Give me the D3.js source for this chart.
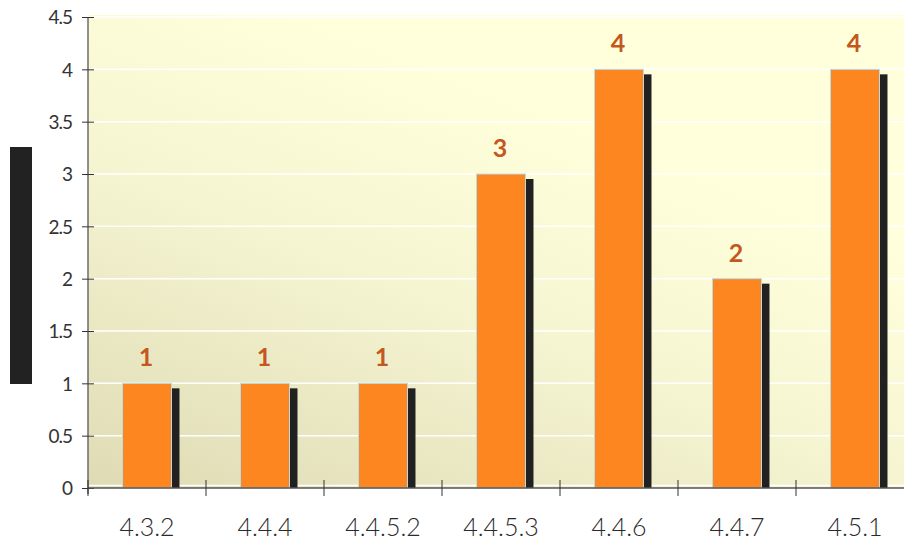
<!DOCTYPE html>
<html><head><meta charset="utf-8">
<script src="https://cdn.jsdelivr.net/npm/d3@7"></script>
<style>
html,body{margin:0;padding:0;background:#fff;}
svg{display:block;}
</style></head>
<body>
<script>
const categories = ["4.3.2","4.4.4","4.4.5.2","4.4.5.3","4.4.6","4.4.7","4.5.1"];
const values = [1,1,1,3,4,2,4];
const yTicks = [0,0.5,1,1.5,2,2.5,3,3.5,4,4.5];
const yTickLabels = ["0","0.5","1","1.5","2","2.5","3","3.5","4","4.5"];

const W = 904, H = 540;
const mLeft = 88, mTop = 17, plotW = 826, plotH = 471;

const svg = d3.select("body").append("svg").attr("width", W).attr("height", H);

const defs = svg.append("defs");
const grad = defs.append("linearGradient").attr("id","bg")
  .attr("x1","0").attr("y1","1").attr("x2","0.55").attr("y2","0.2");
grad.append("stop").attr("offset","0").attr("stop-color","#dedbb4");
grad.append("stop").attr("offset","0.6").attr("stop-color","#f6f5d2");
grad.append("stop").attr("offset","1").attr("stop-color","#ffffdc");

const x = d3.scaleBand().domain(categories).range([mLeft, mLeft + plotW]).padding(0);
const y = d3.scaleLinear().domain([0, 4.5]).range([mTop + plotH, mTop]);

// background
svg.append("rect").attr("x", mLeft).attr("y", mTop - 2).attr("width", plotW).attr("height", plotH + 2)
  .attr("fill", "url(#bg)");

// gridlines
svg.append("g").selectAll("line").data(yTicks).join("line")
  .attr("x1", mLeft).attr("x2", mLeft + plotW)
  .attr("y1", d => d === 0 ? y(d) - 2.5 : y(d)).attr("y2", d => d === 0 ? y(d) - 2.5 : y(d))
  .attr("stroke", "#ffffff").attr("stroke-width", 1.5);

// left dark block (y-axis title box)
svg.append("rect").attr("x", 10).attr("y", 147).attr("width", 22).attr("height", 237).attr("fill", "#222");

const barW = x.bandwidth() * 0.415;
const bars = svg.append("g");
// shadows
bars.selectAll("rect.sh").data(values).join("rect").attr("class","sh")
  .attr("x", (d,i) => x(categories[i]) + x.bandwidth()/2 - barW/2 + 9)
  .attr("y", d => y(d) + 5)
  .attr("width", barW - 1)
  .attr("height", d => y(0) - y(d) - 5)
  .attr("fill", "#212121");
// bars
bars.selectAll("rect.b").data(values).join("rect").attr("class","b")
  .attr("x", (d,i) => x(categories[i]) + x.bandwidth()/2 - barW/2)
  .attr("y", d => y(d))
  .attr("width", barW)
  .attr("height", d => y(0) - y(d))
  .attr("fill", "#fd8620")
  .attr("stroke", "#b9dde6").attr("stroke-width", 1);

// value labels
svg.append("g").selectAll("text").data(values).join("text")
  .attr("x", (d,i) => x(categories[i]) + x.bandwidth()/2 - 1)
  .attr("y", d => y(d) - 17)
  .attr("text-anchor", "middle")
  .attr("font-family", "Lato, 'DejaVu Sans', sans-serif")
  .attr("font-weight", "bold")
  .attr("font-size", 25)
  .attr("fill", "#c3581f")
  .text(d => d);

// y axis
const yAxis = d3.axisLeft(y).tickValues(yTicks).tickSize(6)
  .tickFormat((d,i) => yTickLabels[i]);
const gy = svg.append("g").attr("transform", `translate(${mLeft},0)`).call(yAxis);
gy.select(".domain").attr("d", `M0,${mTop}V${mTop + plotH + 6}`).attr("stroke", "#6b6b6b").attr("stroke-width", 1.5);
gy.selectAll(".tick line").attr("x1", -6).attr("x2", 6).attr("stroke", "#333");
gy.selectAll(".tick text").attr("x", -16).attr("dy", "0.36em")
  .attr("font-family", "Lato, 'DejaVu Sans', sans-serif").attr("font-size", 19)
  .attr("letter-spacing", "-1px").attr("fill", "#333");

// x axis
const xAxis = d3.axisBottom(x).tickSize(0).tickFormat(d => d);
const gx = svg.append("g").attr("transform", `translate(0,${mTop + plotH})`).call(xAxis);
gx.select(".domain").attr("d", `M${mLeft},0H${mLeft + plotW}`).attr("stroke", "#555").attr("stroke-width", 1.5);
gx.selectAll(".tick text").attr("y", 48).attr("dy", 0)
  .attr("font-family", "Lato, 'DejaVu Sans', sans-serif").attr("font-size", 25)
  .attr("font-weight", 300).attr("fill", "#2a2a2a");
// boundary ticks
const bounds = categories.map(c => x(c)).concat([mLeft + plotW]);
gx.append("g").selectAll("line").data(bounds).join("line")
  .attr("x1", d => d).attr("x2", d => d).attr("y1", -8).attr("y2", 8)
  .attr("stroke", "#333").attr("stroke-width", 1);
</script>
</body></html>
